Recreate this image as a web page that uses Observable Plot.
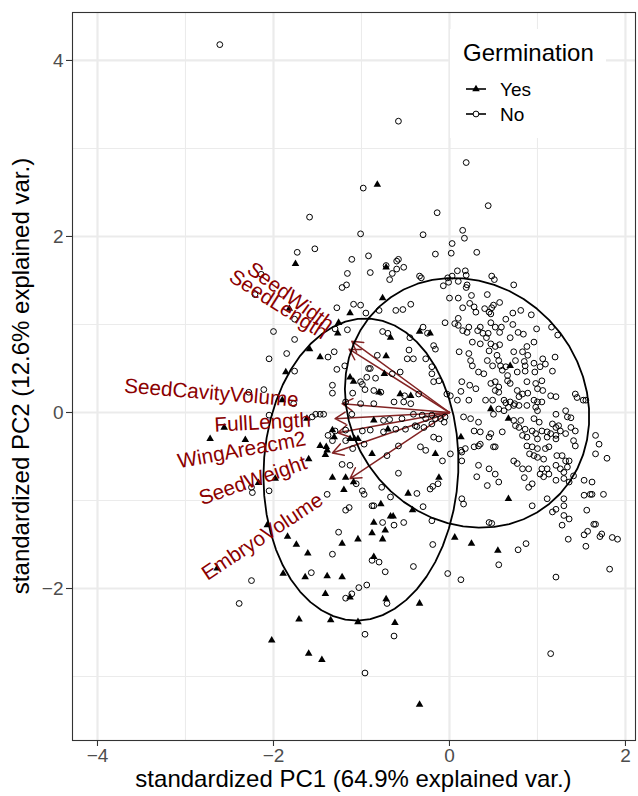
<!DOCTYPE html>
<html><head><meta charset="utf-8">
<script src="https://cdn.jsdelivr.net/npm/d3@7"></script>
<script src="https://cdn.jsdelivr.net/npm/@observablehq/plot@0.6"></script>
<style>body{margin:0;background:#fff}#chart{width:638px;height:796px}</style>
</head><body><div id="chart"></div>
<script>
// ---------------- data ----------------
const groupNames = ["Yes", "No"];
const axisTitleX = "standardized PC1 (64.9% explained var.)";
const axisTitleY = "standardized PC2 (12.6% explained var.)";
const legendTitle = "Germination";
const xTicks = [-4, -2, 0, 2];
const yTicks = [-2, 0, 2, 4];

// PC scores [PC1, PC2], germination = Yes
const scoresYes = [
[-0.82,2.59],[-1.75,1.69],[-0.72,1.65],[-0.76,1.30],[-1.13,1.13],[-1.82,1.18],[-1.26,1.02],[-1.27,0.90],[-0.67,0.85],[-0.34,0.92],
[-0.22,0.90],[0.69,0.53],[0.47,0.04],[0.67,-0.07],[0.67,-0.98],[-1.59,0.72],[-1.47,0.63],[-1.86,0.46],[-0.72,0.64],[-1.13,0.40],
[-1.09,0.35],[-0.74,0.44],[-0.80,0.23],[-0.56,0.21],[-0.44,0.19],[-1.62,-0.07],[-1.90,0.14],[-0.86,-0.09],[-1.33,-0.20],[-0.70,-0.19],
[-1.47,-0.38],[-1.40,-0.39],[-1.39,-0.43],[-1.41,-0.48],[-1.31,-0.28],[-1.13,-0.30],[-1.08,-0.30],[-1.04,-0.30],[-0.88,-0.47],[-0.16,-0.47],
[-1.60,-0.53],[-1.33,-0.74],[-1.18,-0.74],[-1.09,-0.79],[-1.20,-0.88],[-0.47,-0.92],[-0.12,-0.74],[-1.98,-0.75],[-0.78,-1.04],[-0.67,-1.18],
[-0.64,-1.18],[-0.42,-1.11],[-0.86,-1.25],[-2.07,-1.28],[-2.56,-0.17],[-2.72,-0.30],[-2.32,-0.31],[-2.17,-0.80],[-1.84,-1.41],[-1.74,-1.50],
[-1.61,-1.60],[-2.64,-1.77],[-1.89,-1.83],[-1.64,-1.87],[-1.39,-1.86],[-1.41,-2.06],[-1.71,-2.35],[-1.35,-2.36],[-2.02,-2.59],[-1.60,-2.74],
[-1.45,-2.81],[-1.04,-1.44],[-0.88,-1.37],[-0.76,-1.44],[-0.73,-1.34],[-1.22,-1.49],[0.06,-1.42],[0.25,-1.49],[0.55,-1.57],[-0.86,-1.64],
[-1.22,-1.87],[-1.13,-2.10],[-0.72,-2.12],[-0.34,-2.17],[-1.04,-2.38],[-0.62,-2.39],[-0.34,-3.32],[0.13,-0.28]
];

// PC scores [PC1, PC2], germination = No
const scoresNo = [
[-2.61,4.18],[-0.58,3.31],
[-0.98,2.55],[-1.59,2.22],[-0.14,2.27],[-1.01,2.03],[-0.30,2.02],[0.03,1.92],[-1.73,1.82],[-1.53,1.86],[-1.11,1.74],[-0.92,1.78],
[-0.60,1.72],[-0.58,1.74],[-0.16,1.80],[0.02,1.81],[-0.72,1.67],[-0.60,1.63],[-0.52,1.65],[-0.90,1.59],[-1.16,1.58],[-0.65,1.58],
[-0.68,1.51],[-1.17,1.45],[-1.22,1.42],[-0.34,1.55],[-0.32,1.53],[-0.02,1.53],[0.03,1.55],[-0.01,1.48],[-0.07,1.44],[0.00,1.30],
[-0.44,1.23],[-1.28,1.19],[-1.09,1.23],[-1.01,1.22],[-0.80,1.16],[-0.61,1.16],[-0.53,1.17],[-0.95,1.13],[-1.76,1.06],[-0.05,1.02],
[0.06,1.01],[-2.00,0.92],[-1.76,0.83],[-1.30,0.95],[-1.16,0.94],[-0.76,0.92],[-0.70,0.90],[-0.45,0.85],[-0.30,0.97],[-0.25,0.90],
[0.19,2.84],[0.44,2.35],[0.15,2.07],[0.17,1.98],[0.31,1.82],[0.09,1.61],[0.18,1.61],[0.19,1.56],[0.10,1.49],[0.48,1.55],
[0.51,1.51],[0.73,1.45],[0.20,1.45],[0.19,1.42],[0.10,1.30],[0.25,1.33],[0.43,1.34],[0.15,1.19],[0.23,1.24],[0.28,1.20],
[0.30,1.14],[0.40,1.18],[0.48,1.19],[0.50,1.22],[0.45,1.14],[0.47,1.12],[0.57,1.25],[0.81,1.16],[0.72,1.13],[0.93,1.11],
[0.10,1.07],[0.10,0.99],[0.47,1.02],[0.64,1.06],[0.72,1.00],[0.22,0.97],[0.20,0.91],[0.15,0.93],[0.32,0.93],[0.35,0.97],
[0.38,0.90],[0.44,0.90],[0.42,0.85],[0.52,0.97],[0.59,0.97],[0.57,0.91],[0.69,0.85],[0.78,0.91],[0.84,0.89],[0.99,0.95],
[1.16,0.97],[1.23,0.88],
[0.26,0.80],[0.35,0.78],[0.47,0.78],[0.52,0.75],[0.57,0.77],[0.88,0.75],[0.96,0.80],[0.11,0.69],[0.22,0.67],[0.45,0.70],
[0.54,0.65],[0.73,0.69],[0.83,0.69],[0.89,0.65],[1.06,0.61],[1.20,0.63],[0.24,0.59],[0.26,0.53],[0.43,0.59],[0.49,0.53],
[0.56,0.59],[0.58,0.53],[0.64,0.52],[0.75,0.59],[0.85,0.58],[0.86,0.53],[0.96,0.56],[1.03,0.52],[1.09,0.55],[0.33,0.46],
[0.39,0.44],[0.60,0.48],[0.66,0.42],[0.77,0.46],[0.86,0.47],[0.97,0.46],[1.17,0.47],[0.14,0.35],[0.23,0.31],[0.30,0.27],
[0.47,0.33],[0.52,0.35],[0.56,0.29],[0.66,0.36],[0.69,0.33],[0.88,0.35],[0.98,0.33],[1.05,0.36],[0.13,0.24],[0.52,0.25],
[0.56,0.23],[0.77,0.25],[0.83,0.21],[0.89,0.22],[1.00,0.27],[1.06,0.25],[1.15,0.19],[1.21,0.18],[1.43,0.21],[1.45,0.17],
[1.52,0.14],[0.09,0.14],[0.22,0.14],[0.41,0.14],[0.49,0.14],[0.62,0.14],[0.64,0.11],[0.69,0.12],[0.74,0.10],[0.79,0.18],
[0.96,0.14],[1.00,0.12],[1.05,0.12],[0.56,0.04],[0.62,0.02],[0.67,0.06],[0.73,0.08],[0.79,0.08],[0.88,0.08],[0.98,0.06],
[1.00,0.02],[1.21,-0.02],[1.32,0.02],[1.34,-0.05],[1.38,-0.06],[1.55,0.14],[0.16,-0.05],[0.24,-0.07],[0.33,-0.11],[0.50,-0.02],
[0.73,-0.09],[0.81,-0.09],[0.96,-0.07],[1.02,-0.11],[1.17,-0.13],[1.21,-0.17],[1.24,-0.15],[0.28,-0.21],[0.35,-0.22],[0.75,-0.15],
[0.79,-0.17],[0.86,-0.19],[0.94,-0.21],[0.98,-0.24],[1.05,-0.21],[1.11,-0.22],[1.15,-0.24],[1.21,-0.26],[1.26,-0.21],[1.38,-0.17],
[1.43,-0.21],[0.47,-0.24],[0.45,-0.28],[0.60,-0.22],[0.83,-0.26],[0.88,-0.28],[1.00,-0.30],[1.11,-0.28],[1.21,-0.30],[1.32,-0.24],
[0.13,-0.43],[0.18,-0.41],[0.28,-0.39],[0.33,-0.38],[0.35,-0.36],[0.50,-0.39],[0.52,-0.39],[0.88,-0.38],[0.94,-0.39],[1.00,-0.41],
[1.09,-0.41],[1.13,-0.39],[1.41,-0.32],[1.43,-0.38],[1.66,-0.26],[1.70,-0.36],[0.14,-0.45],[0.14,-0.55],[0.91,-0.47],[0.96,-0.49],
[1.00,-0.51],[1.07,-0.53],[1.22,-0.49],[1.28,-0.49],[1.32,-0.55],[1.36,-0.55],[1.66,-0.47],[1.79,-0.52],[0.33,-0.60],[0.45,-0.64],
[0.52,-0.70],[0.56,-0.79],[0.73,-0.55],[0.77,-0.58],[0.83,-0.64],[0.90,-0.64],[1.05,-0.64],[1.11,-0.64],[1.21,-0.60],[1.26,-0.64],
[1.34,-0.62],[1.30,-0.68],[0.31,-0.73],[0.43,-0.83],[0.85,-0.74],[0.90,-0.85],[0.94,-0.81],[1.03,-0.70],[1.07,-0.73],[1.13,-0.70],
[1.21,-0.77],[1.30,-0.75],[1.36,-0.79],[1.41,-0.72],[1.53,-0.77],[1.62,-0.79],[0.14,-0.98],[0.16,-1.04],[0.94,-1.06],[1.11,-0.98],
[1.30,-0.98],[1.30,-1.06],[1.53,-0.94],[1.60,-0.93],[1.62,-0.93],[1.75,-0.93],[1.17,-1.13],[1.21,-1.10],[1.30,-1.17],[1.36,-1.21],
[1.56,-1.11],[0.45,-1.25],[0.48,-1.26],[1.28,-1.28],[1.64,-1.27],[1.66,-1.27],
[-1.85,0.67],[-1.31,0.69],[-1.38,0.63],[-1.76,0.47],[-1.28,0.49],[-1.19,0.53],[-0.92,0.50],[-0.90,0.50],[-0.82,0.65],[-0.94,0.40],
[-0.84,0.39],[-1.01,0.35],[-0.99,0.32],[-1.33,0.31],[-1.33,0.22],[-1.10,0.22],[-0.96,0.26],[-0.65,0.44],[-0.56,0.46],[-0.46,0.71],
[-0.41,0.61],[-0.48,0.61],[-0.27,0.61],[-0.18,0.76],[-0.16,0.72],[-0.20,0.52],[-0.20,0.44],[-0.18,0.35],[-0.12,0.36],[-0.03,0.21],
[0.01,0.19],[-0.86,0.25],[-0.78,0.23],[-0.51,0.19],[-0.35,0.21],[-1.18,0.12],[-1.01,0.10],[-0.86,0.10],[-0.63,0.12],[-0.52,0.12],
[-0.44,0.10],[-1.56,-0.05],[-1.52,-0.02],[-1.47,-0.02],[-1.43,-0.02],[-1.77,0.10],[-2.05,-0.03],[-1.11,-0.02],[-0.75,-0.09],[-0.68,-0.08],
[-0.54,-0.07],[-0.41,-0.02],[-0.31,-0.03],[-0.27,-0.07],[-0.20,-0.03],[-0.16,-0.07],[-0.10,-0.07],[-0.05,-0.05],[-1.30,-0.21],[-1.38,-0.26],
[-1.18,-0.20],[-0.99,-0.21],[-0.90,-0.20],[-0.75,-0.22],[-0.61,-0.19],[-0.50,-0.19],[-0.39,-0.15],[-0.37,-0.16],[-0.29,-0.17],[-0.20,-0.13],
[-0.06,-0.11],[-1.33,-0.32],[-1.18,-0.32],[-0.97,-0.36],[-1.10,-0.41],[-0.71,-0.49],[-0.58,-0.38],[-0.33,-0.39],[-0.27,-0.43],[-0.18,-0.28],
[-0.12,-0.30],[-0.08,-0.55],[0.01,-0.47],[-1.22,-0.59],[-1.13,-0.60],[-1.06,-0.81],[-0.99,-0.89],[-0.97,-0.93],[-0.77,-0.85],[-0.67,-0.96],
[-0.58,-0.69],[-0.37,-0.92],[-0.22,-0.87],[-0.19,-0.84],[-0.13,-0.81],[-1.39,-0.93],[-2.05,-0.89],[-0.88,-1.06],[-0.86,-1.06],[-1.18,-1.11],
[-1.14,-1.08],[-0.30,-1.07],[-0.20,-1.23],[-0.76,-1.25],[-0.63,-1.28],[-0.52,-1.25],
[-2.28,0.23],[-2.11,0.26],[-2.05,0.61],[-2.25,-0.85],[-2.24,-0.91],[-2.14,1.57],[-2.21,1.34],
[-1.33,-1.61],[-2.25,-1.91],[-1.57,-1.82],[-2.39,-2.17],[-1.26,-1.36],
[-0.19,-1.50],[0.78,-1.56],[0.87,-1.49],[1.35,-1.44],[1.53,-1.39],[1.57,-1.35],[1.71,-1.41],[1.73,-1.38],[1.85,-1.42],[1.91,-1.44],
[1.55,-1.52],[1.82,-1.78],[1.21,-1.87],[0.56,-1.73],[-0.02,-1.83],[0.13,-1.90],[-0.41,-1.75],[-0.88,-1.68],[-0.80,-1.70],[-0.73,-1.81],
[-1.03,-1.99],[-1.11,-2.06],[-1.18,-2.11],[-0.94,-1.96],[-0.71,-2.17],[-0.96,-2.52],[-0.63,-2.54],[-0.96,-2.96],[1.15,-2.74]
];

// variable loadings (arrow tips)
const varNames = ["SeedWidth","SeedLength","SeedCavityVolume","FullLength","WingAreacm2","SeedWeight","EmbryoVolume"];
const varPC1 = [-1.11,-1.14,-1.22,-1.30,-1.27,-1.33,-1.13];
const varPC2 = [0.81,0.72,0.10,-0.07,-0.23,-0.46,-0.75];

// 68% normal ellipses per group (centre and covariance)
const ellipseProb = 0.68;
const ellipseMeanX = [-1.006, 0.20];
const ellipseMeanY = [-0.648, 0.11];
const ellipseVarX = [0.539, 0.846];
const ellipseVarY = [1.293, 0.884];
const ellipseCov = [0.038, -0.095];

// ---------------- layout ----------------
const W = 638, H = 796;
const mL = 72, mR = 3, mT = 12, mB = 56;
const xDomain = [-4.284, 2.114], yDomain = [-3.727, 4.545];
const pxPerUnit = (W - mL - mR) / (xDomain[1] - xDomain[0]);
const FONT = "'Liberation Sans', Arial, Helvetica, sans-serif";
const LABEL_SIZE = 20.7;
const TRI_R = 2.8, CIRC_R = 2.9;

const ctx = document.createElement("canvas").getContext("2d");
ctx.font = `${LABEL_SIZE}px ${FONT}`;

const vars = varNames.map((name, i) => {
  const x = varPC1[i], y = varPC2[i];
  const len = Math.hypot(x, y);
  const w = ctx.measureText(name).width;
  const f = 1 + 0.25 * w / (pxPerUnit * len); // ggbiplot hjust = 1.25
  return {name, x, y, lx: x * f, ly: y * f, angle: Math.atan(y / x) * 180 / Math.PI};
});

const ed = Math.sqrt(-2 * Math.log(1 - ellipseProb));
const ellipsePts = [];
groupNames.forEach((g, i) => {
  const a = ellipseVarX[i], b = ellipseCov[i], c = ellipseVarY[i];
  const r11 = Math.sqrt(a), r12 = b / r11, r22 = Math.sqrt(c - r12 * r12);
  for (let k = 0; k < 50; k++) {
    const t = -Math.PI + 2 * Math.PI * k / 49;
    ellipsePts.push({g, x: ellipseMeanX[i] + ed * Math.cos(t) * r11,
      y: ellipseMeanY[i] + ed * (Math.cos(t) * r12 + Math.sin(t) * r22)});
  }
});

const fmt = d => d < 0 ? "\u2212" + (-d) : String(d);
const gridStyle = {stroke: "#EBEBEB", strokeOpacity: 1};

const plot = Plot.plot({
  width: W, height: H,
  marginLeft: mL, marginRight: mR, marginTop: mT, marginBottom: mB,
  x: {domain: xDomain}, y: {domain: yDomain},
  style: {fontFamily: FONT, background: "white", overflow: "visible"},
  marks: [
    Plot.gridX([-3, -1, 1], {...gridStyle, strokeWidth: 1.1}),
    Plot.gridY([-3, -1, 1, 3], {...gridStyle, strokeWidth: 1.1}),
    Plot.gridX(xTicks, {...gridStyle, strokeWidth: 2.2}),
    Plot.gridY(yTicks, {...gridStyle, strokeWidth: 2.2}),
    Plot.arrow(vars, {x1: () => 0, y1: () => 0, x2: "x", y2: "y", stroke: "#832424",
      strokeWidth: 1.5, headLength: 12, headAngle: 60}),
    Plot.dot(scoresNo, {x: d => d[0], y: d => d[1], r: CIRC_R, stroke: "black", strokeWidth: 1, fill: "none"}),
    Plot.dot(scoresYes, {x: d => d[0], y: d => d[1], symbol: "triangle", r: TRI_R, fill: "black", stroke: "none"}),
    Plot.line(ellipsePts, {x: "x", y: "y", z: "g", stroke: "black", strokeWidth: 1.8}),
    Plot.text(vars, {x: "lx", y: "ly", text: "name", rotate: d => -d.angle, textAnchor: "end",
      fill: "#8B0000", fontSize: LABEL_SIZE}),
    Plot.frame({stroke: "#333333", strokeWidth: 1.1}),
    Plot.axisX({ticks: xTicks, tickSize: 6, tickPadding: 2, fontSize: 19, fill: "#4D4D4D",
      stroke: "#333333", strokeWidth: 1.1, label: null, tickFormat: fmt}),
    Plot.axisY({ticks: yTicks, tickSize: 6, tickPadding: 3, fontSize: 19, fill: "#4D4D4D",
      stroke: "#333333", strokeWidth: 1.1, label: null, tickFormat: fmt})
  ]
});

const svg = d3.select(plot);
svg.append("text").attr("x", (mL + W - mR) / 2).attr("y", 787)
  .attr("text-anchor", "middle").attr("font-size", 24).attr("font-family", FONT)
  .attr("fill", "black").text(axisTitleX);
svg.append("text").attr("transform", `translate(29,${(mT + H - mB) / 2}) rotate(-90)`)
  .attr("text-anchor", "middle").attr("font-size", 24).attr("font-family", FONT)
  .attr("fill", "black").text(axisTitleY);

// legend (inside panel, top right)
const lg = svg.append("g").attr("font-family", FONT).attr("text-anchor", "start");
lg.append("rect").attr("x", 450).attr("y", 29).attr("width", 156).attr("height", 109).attr("fill", "white");
lg.append("text").attr("x", 463).attr("y", 61).attr("font-size", 24).attr("fill", "black")
  .attr("text-anchor", "start").text(legendTitle);
groupNames.forEach((g, i) => {
  const cy = 89 + i * 25;
  lg.append("line").attr("x1", 466).attr("x2", 486).attr("y1", cy).attr("y2", cy)
    .attr("stroke", "black").attr("stroke-width", 1.6);
  if (g === "Yes") {
    lg.append("path").attr("transform", `translate(476,${cy})`)
      .attr("d", d3.symbol(d3.symbolTriangle, TRI_R * TRI_R * Math.PI)()).attr("fill", "black");
  } else {
    lg.append("circle").attr("cx", 476).attr("cy", cy).attr("r", CIRC_R)
      .attr("fill", "white").attr("stroke", "black").attr("stroke-width", 1);
  }
  lg.append("text").attr("x", 500).attr("y", cy + 7).attr("font-size", 19).attr("fill", "black")
    .attr("text-anchor", "start").text(g);
});

document.getElementById("chart").appendChild(plot);
</script>
</body></html>
